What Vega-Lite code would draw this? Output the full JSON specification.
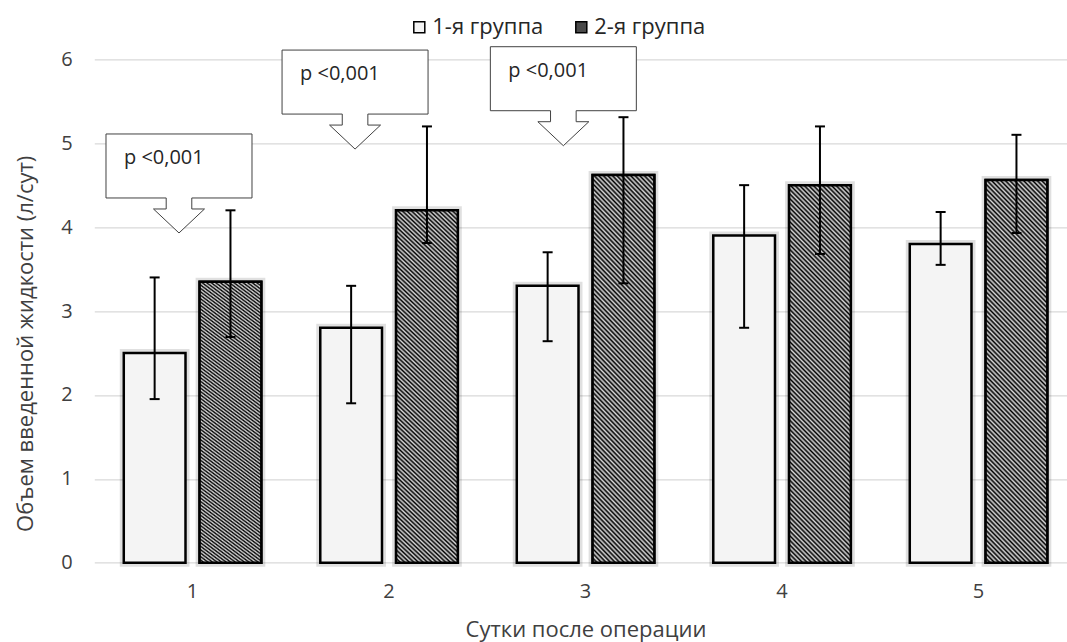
{
  "$schema": "https://vega.github.io/schema/vega-lite/v6.json",
  "width": 973,
  "height": 503.4,
  "autosize": {"type": "none"},
  "padding": {"left": 94.3, "top": 59.3, "right": 0, "bottom": 79.3},
  "background": "white",
  "config": {
    "font": "Open Sans",
    "view": {"stroke": null},
    "axis": {"labelColor": "#404040", "titleColor": "#404040", "titleFontWeight": "normal", "domain": false, "ticks": false, "tickSize": 0},
    "legend": {"labelColor": "#262626"}
  },
  "datasets": {
    "bars": [
      {"day": "1", "group": "1-я группа", "mean": 2.5, "lo": 1.95, "hi": 3.4},
      {"day": "1", "group": "2-я группа", "mean": 3.35, "lo": 2.69, "hi": 4.2},
      {"day": "2", "group": "1-я группа", "mean": 2.8, "lo": 1.9, "hi": 3.3},
      {"day": "2", "group": "2-я группа", "mean": 4.2, "lo": 3.81, "hi": 5.2},
      {"day": "3", "group": "1-я группа", "mean": 3.3, "lo": 2.64, "hi": 3.7},
      {"day": "3", "group": "2-я группа", "mean": 4.62, "lo": 3.33, "hi": 5.31},
      {"day": "4", "group": "1-я группа", "mean": 3.9, "lo": 2.8, "hi": 4.5},
      {"day": "4", "group": "2-я группа", "mean": 4.5, "lo": 3.68, "hi": 5.2},
      {"day": "5", "group": "1-я группа", "mean": 3.8, "lo": 3.55, "hi": 4.18},
      {"day": "5", "group": "2-я группа", "mean": 4.56, "lo": 3.93, "hi": 5.1}
    ],
    "notes": [
      {"pos": 0.931, "tip": 3.93, "label": "p <0,001"},
      {"pos": 1.827, "tip": 4.93, "label": "p <0,001"},
      {"pos": 2.887, "tip": 4.97, "label": "p <0,001"}
    ]
  },
  "layer": [
    {
      "data": {"name": "bars"},
      "encoding": {
        "x": {
          "field": "day", "type": "nominal", "sort": ["1", "2", "3", "4", "5"],
          "scale": {"range": [0, 982.5], "paddingInner": 0.3, "paddingOuter": 0.15},
          "axis": {"title": "Сутки после операции", "labelAngle": 0, "labelFontSize": 20, "labelPadding": 19, "titleFontSize": 22, "titleX": 491.2, "titleY": 67.3, "titleBaseline": "middle", "titleAlign": "center", "grid": false}
        },
        "xOffset": {"field": "group", "type": "nominal", "scale": {"domain": ["1-я группа", "2-я группа"], "paddingInner": 0.186, "paddingOuter": 0}}
      },
      "layer": [
        {
          "mark": {"type": "bar", "fill": "transparent", "stroke": "#000", "strokeOpacity": 0.12, "strokeWidth": 8},
          "encoding": {
            "y": {"field": "mean", "type": "quantitative", "title": "Объем введенной жидкости (л/сут)",
              "scale": {"domain": [0, 6], "nice": false},
              "axis": {"values": [0, 1, 2, 3, 4, 5, 6], "format": "d", "labelFontSize": 20, "labelPadding": 22, "gridColor": "#d9d9d9", "gridWidth": 1.3, "titleFontSize": 22, "titleX": -69, "titleY": 284, "titleBaseline": "middle", "titleAlign": "center", "titleAngle": -90}}
          }
        },
        {
          "mark": {"type": "bar", "stroke": "#000", "strokeWidth": 2.5, "fillOpacity": 1},
          "encoding": {
            "y": {"field": "mean", "type": "quantitative", "title": "Объем введенной жидкости (л/сут)"},
            "fill": {"field": "group", "type": "nominal",
              "scale": {"domain": ["1-я группа", "2-я группа"], "range": ["#f4f4f4", "#4a4a4a"]},
              "legend": {"title": null, "orient": "none", "legendX": 314, "legendY": -43, "direction": "horizontal", "symbolType": "square", "symbolSize": 121, "symbolStrokeColor": "#000", "symbolStrokeWidth": 1.5, "labelFontSize": 22, "labelOffset": 2, "columnPadding": 26, "padding": 0}}
          }
        },
        {
          "transform": [{"filter": "datum.group == '2-я группа'"}],
          "mark": {"type": "bar", "stroke": "#000", "strokeWidth": 2.5,
            "fill": {"gradient": "linear", "x1": 0, "y1": 1, "x2": 0.1972, "y2": -0.1903, "stops": [
              {"offset": 0, "color": "#000"}, {"offset": 0.005, "color": "#d8d8d8"},
              {"offset": 0.01, "color": "#000"}, {"offset": 0.015, "color": "#d8d8d8"},
              {"offset": 0.02, "color": "#000"}, {"offset": 0.025, "color": "#d8d8d8"},
              {"offset": 0.03, "color": "#000"}, {"offset": 0.035, "color": "#d8d8d8"},
              {"offset": 0.04, "color": "#000"}, {"offset": 0.045, "color": "#d8d8d8"},
              {"offset": 0.05, "color": "#000"}, {"offset": 0.055, "color": "#d8d8d8"},
              {"offset": 0.06, "color": "#000"}, {"offset": 0.065, "color": "#d8d8d8"},
              {"offset": 0.07, "color": "#000"}, {"offset": 0.075, "color": "#d8d8d8"},
              {"offset": 0.08, "color": "#000"}, {"offset": 0.085, "color": "#d8d8d8"},
              {"offset": 0.09, "color": "#000"}, {"offset": 0.095, "color": "#d8d8d8"},
              {"offset": 0.1, "color": "#000"}, {"offset": 0.105, "color": "#d8d8d8"},
              {"offset": 0.11, "color": "#000"}, {"offset": 0.115, "color": "#d8d8d8"},
              {"offset": 0.12, "color": "#000"}, {"offset": 0.125, "color": "#d8d8d8"},
              {"offset": 0.13, "color": "#000"}, {"offset": 0.135, "color": "#d8d8d8"},
              {"offset": 0.14, "color": "#000"}, {"offset": 0.145, "color": "#d8d8d8"},
              {"offset": 0.15, "color": "#000"}, {"offset": 0.155, "color": "#d8d8d8"},
              {"offset": 0.16, "color": "#000"}, {"offset": 0.165, "color": "#d8d8d8"},
              {"offset": 0.17, "color": "#000"}, {"offset": 0.175, "color": "#d8d8d8"},
              {"offset": 0.18, "color": "#000"}, {"offset": 0.185, "color": "#d8d8d8"},
              {"offset": 0.19, "color": "#000"}, {"offset": 0.195, "color": "#d8d8d8"},
              {"offset": 0.2, "color": "#000"}, {"offset": 0.205, "color": "#d8d8d8"},
              {"offset": 0.21, "color": "#000"}, {"offset": 0.215, "color": "#d8d8d8"},
              {"offset": 0.22, "color": "#000"}, {"offset": 0.225, "color": "#d8d8d8"},
              {"offset": 0.23, "color": "#000"}, {"offset": 0.235, "color": "#d8d8d8"},
              {"offset": 0.24, "color": "#000"}, {"offset": 0.245, "color": "#d8d8d8"},
              {"offset": 0.25, "color": "#000"}, {"offset": 0.255, "color": "#d8d8d8"},
              {"offset": 0.26, "color": "#000"}, {"offset": 0.265, "color": "#d8d8d8"},
              {"offset": 0.27, "color": "#000"}, {"offset": 0.275, "color": "#d8d8d8"},
              {"offset": 0.28, "color": "#000"}, {"offset": 0.285, "color": "#d8d8d8"},
              {"offset": 0.29, "color": "#000"}, {"offset": 0.295, "color": "#d8d8d8"},
              {"offset": 0.3, "color": "#000"}, {"offset": 0.305, "color": "#d8d8d8"},
              {"offset": 0.31, "color": "#000"}, {"offset": 0.315, "color": "#d8d8d8"},
              {"offset": 0.32, "color": "#000"}, {"offset": 0.325, "color": "#d8d8d8"},
              {"offset": 0.33, "color": "#000"}, {"offset": 0.335, "color": "#d8d8d8"},
              {"offset": 0.34, "color": "#000"}, {"offset": 0.345, "color": "#d8d8d8"},
              {"offset": 0.35, "color": "#000"}, {"offset": 0.355, "color": "#d8d8d8"},
              {"offset": 0.36, "color": "#000"}, {"offset": 0.365, "color": "#d8d8d8"},
              {"offset": 0.37, "color": "#000"}, {"offset": 0.375, "color": "#d8d8d8"},
              {"offset": 0.38, "color": "#000"}, {"offset": 0.385, "color": "#d8d8d8"},
              {"offset": 0.39, "color": "#000"}, {"offset": 0.395, "color": "#d8d8d8"},
              {"offset": 0.4, "color": "#000"}, {"offset": 0.405, "color": "#d8d8d8"},
              {"offset": 0.41, "color": "#000"}, {"offset": 0.415, "color": "#d8d8d8"},
              {"offset": 0.42, "color": "#000"}, {"offset": 0.425, "color": "#d8d8d8"},
              {"offset": 0.43, "color": "#000"}, {"offset": 0.435, "color": "#d8d8d8"},
              {"offset": 0.44, "color": "#000"}, {"offset": 0.445, "color": "#d8d8d8"},
              {"offset": 0.45, "color": "#000"}, {"offset": 0.455, "color": "#d8d8d8"},
              {"offset": 0.46, "color": "#000"}, {"offset": 0.465, "color": "#d8d8d8"},
              {"offset": 0.47, "color": "#000"}, {"offset": 0.475, "color": "#d8d8d8"},
              {"offset": 0.48, "color": "#000"}, {"offset": 0.485, "color": "#d8d8d8"},
              {"offset": 0.49, "color": "#000"}, {"offset": 0.495, "color": "#d8d8d8"},
              {"offset": 0.5, "color": "#000"}, {"offset": 0.505, "color": "#d8d8d8"},
              {"offset": 0.51, "color": "#000"}, {"offset": 0.515, "color": "#d8d8d8"},
              {"offset": 0.52, "color": "#000"}, {"offset": 0.525, "color": "#d8d8d8"},
              {"offset": 0.53, "color": "#000"}, {"offset": 0.535, "color": "#d8d8d8"},
              {"offset": 0.54, "color": "#000"}, {"offset": 0.545, "color": "#d8d8d8"},
              {"offset": 0.55, "color": "#000"}, {"offset": 0.555, "color": "#d8d8d8"},
              {"offset": 0.56, "color": "#000"}, {"offset": 0.565, "color": "#d8d8d8"},
              {"offset": 0.57, "color": "#000"}, {"offset": 0.575, "color": "#d8d8d8"},
              {"offset": 0.58, "color": "#000"}, {"offset": 0.585, "color": "#d8d8d8"},
              {"offset": 0.59, "color": "#000"}, {"offset": 0.595, "color": "#d8d8d8"},
              {"offset": 0.6, "color": "#000"}, {"offset": 0.605, "color": "#d8d8d8"},
              {"offset": 0.61, "color": "#000"}, {"offset": 0.615, "color": "#d8d8d8"},
              {"offset": 0.62, "color": "#000"}, {"offset": 0.625, "color": "#d8d8d8"},
              {"offset": 0.63, "color": "#000"}, {"offset": 0.635, "color": "#d8d8d8"},
              {"offset": 0.64, "color": "#000"}, {"offset": 0.645, "color": "#d8d8d8"},
              {"offset": 0.65, "color": "#000"}, {"offset": 0.655, "color": "#d8d8d8"},
              {"offset": 0.66, "color": "#000"}, {"offset": 0.665, "color": "#d8d8d8"},
              {"offset": 0.67, "color": "#000"}, {"offset": 0.675, "color": "#d8d8d8"},
              {"offset": 0.68, "color": "#000"}, {"offset": 0.685, "color": "#d8d8d8"},
              {"offset": 0.69, "color": "#000"}, {"offset": 0.695, "color": "#d8d8d8"},
              {"offset": 0.7, "color": "#000"}, {"offset": 0.705, "color": "#d8d8d8"},
              {"offset": 0.71, "color": "#000"}, {"offset": 0.715, "color": "#d8d8d8"},
              {"offset": 0.72, "color": "#000"}, {"offset": 0.725, "color": "#d8d8d8"},
              {"offset": 0.73, "color": "#000"}, {"offset": 0.735, "color": "#d8d8d8"},
              {"offset": 0.74, "color": "#000"}, {"offset": 0.745, "color": "#d8d8d8"},
              {"offset": 0.75, "color": "#000"}, {"offset": 0.755, "color": "#d8d8d8"},
              {"offset": 0.76, "color": "#000"}, {"offset": 0.765, "color": "#d8d8d8"},
              {"offset": 0.77, "color": "#000"}, {"offset": 0.775, "color": "#d8d8d8"},
              {"offset": 0.78, "color": "#000"}, {"offset": 0.785, "color": "#d8d8d8"},
              {"offset": 0.79, "color": "#000"}, {"offset": 0.795, "color": "#d8d8d8"},
              {"offset": 0.8, "color": "#000"}, {"offset": 0.805, "color": "#d8d8d8"},
              {"offset": 0.81, "color": "#000"}, {"offset": 0.815, "color": "#d8d8d8"},
              {"offset": 0.82, "color": "#000"}, {"offset": 0.825, "color": "#d8d8d8"},
              {"offset": 0.83, "color": "#000"}, {"offset": 0.835, "color": "#d8d8d8"},
              {"offset": 0.84, "color": "#000"}, {"offset": 0.845, "color": "#d8d8d8"},
              {"offset": 0.85, "color": "#000"}, {"offset": 0.855, "color": "#d8d8d8"},
              {"offset": 0.86, "color": "#000"}, {"offset": 0.865, "color": "#d8d8d8"},
              {"offset": 0.87, "color": "#000"}, {"offset": 0.875, "color": "#d8d8d8"},
              {"offset": 0.88, "color": "#000"}, {"offset": 0.885, "color": "#d8d8d8"},
              {"offset": 0.89, "color": "#000"}, {"offset": 0.895, "color": "#d8d8d8"},
              {"offset": 0.9, "color": "#000"}, {"offset": 0.905, "color": "#d8d8d8"},
              {"offset": 0.91, "color": "#000"}, {"offset": 0.915, "color": "#d8d8d8"},
              {"offset": 0.92, "color": "#000"}, {"offset": 0.925, "color": "#d8d8d8"},
              {"offset": 0.93, "color": "#000"}, {"offset": 0.935, "color": "#d8d8d8"},
              {"offset": 0.94, "color": "#000"}, {"offset": 0.945, "color": "#d8d8d8"},
              {"offset": 0.95, "color": "#000"}, {"offset": 0.955, "color": "#d8d8d8"},
              {"offset": 0.96, "color": "#000"}, {"offset": 0.965, "color": "#d8d8d8"},
              {"offset": 0.97, "color": "#000"}, {"offset": 0.975, "color": "#d8d8d8"},
              {"offset": 0.98, "color": "#000"}, {"offset": 0.985, "color": "#d8d8d8"},
              {"offset": 0.99, "color": "#000"}, {"offset": 0.995, "color": "#d8d8d8"},
              {"offset": 1, "color": "#000"}
            ]}},
          "encoding": {
            "y": {"field": "mean", "type": "quantitative", "title": "Объем введенной жидкости (л/сут)"}
          }
        },
        {
          "mark": {"type": "rule", "color": "#000", "strokeWidth": 2},
          "encoding": {
            "y": {"field": "lo", "type": "quantitative", "title": "Объем введенной жидкости (л/сут)"},
            "y2": {"field": "hi"}
          }
        },
        {
          "mark": {"type": "tick", "color": "#000", "thickness": 2, "size": 10, "orient": "horizontal", "opacity": 1},
          "encoding": {
            "y": {"field": "hi", "type": "quantitative", "title": "Объем введенной жидкости (л/сут)"}
          }
        },
        {
          "mark": {"type": "tick", "color": "#000", "thickness": 2, "size": 10, "orient": "horizontal", "opacity": 1},
          "encoding": {
            "y": {"field": "lo", "type": "quantitative", "title": "Объем введенной жидкости (л/сут)"}
          }
        }
      ]
    },
    {
      "data": {"name": "notes"},
      "encoding": {
        "x": {"field": "pos", "type": "quantitative", "scale": {"domain": [0.5, 5.5], "range": [0, 982.5], "nice": false, "zero": false}, "axis": null},
        "y": {"field": "tip", "type": "quantitative", "title": "Объем введенной жидкости (л/сут)"}
      },
      "layer": [
        {
          "mark": {"type": "point", "shape": "M0,0L-25.5,-24L-12.8,-24L-12.8,-35L-73,-35L-73,-99L73,-99L73,-35L12.8,-35L12.8,-24L25.5,-24Z", "size": 4, "filled": true, "fill": "white", "stroke": "#404040", "strokeWidth": 1, "opacity": 1, "fillOpacity": 1, "strokeOpacity": 1}
        },
        {
          "mark": {"type": "text", "align": "left", "baseline": "middle", "dx": -55, "dy": -75, "fontSize": 20, "color": "#262626"},
          "encoding": {"text": {"field": "label"}}
        }
      ]
    }
  ],
  "resolve": {"scale": {"x": "independent"}}
}
